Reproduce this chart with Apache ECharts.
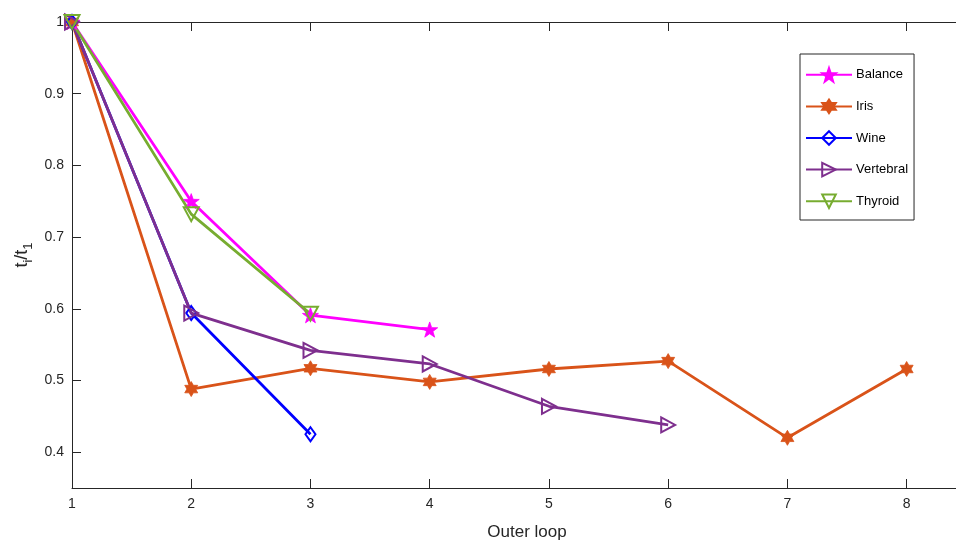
<!DOCTYPE html>
<html>
<head>
<meta charset="utf-8">
<script src="https://cdn.jsdelivr.net/npm/echarts@6/dist/echarts.min.js"></script>
<style>
  html, body { margin: 0; padding: 0; background: #fff; }
  #chart { width: 956px; height: 541px; }
</style>
</head>
<body>
<div id="chart"></div>
<script>
// Normalised run time t_i / t_1 per outer-loop iteration for each dataset
const outerLoop = [1, 2, 3, 4, 5, 6, 7, 8];
const balance   = [1.000, 0.750, 0.591, 0.571];
const iris      = [1.000, 0.488, 0.517, 0.498, 0.516, 0.527, 0.420, 0.516];
const wine      = [1.000, 0.594, 0.425];
const vertebral = [1.000, 0.594, 0.542, 0.523, 0.464, 0.438];
const thyroid   = [1.000, 0.732, 0.593];

const xTicks = [1, 2, 3, 4, 5, 6, 7, 8];
const yTicks = [0.4, 0.5, 0.6, 0.7, 0.8, 0.9, 1];

const AXIS = '#262626';
const FONT = '"Liberation Sans", Arial, Helvetica, sans-serif';

const STAR = 'path://M0,-10 L2.35,-3.24 L9.51,-3.09 L3.8,1.24 L5.88,8.09 L0,4 L-5.88,8.09 L-3.8,1.24 L-9.51,-3.09 L-2.35,-3.24 Z';
const HEXAGRAM = 'path://M0,-10 L2.89,-5 L8.66,-5 L5.77,0 L8.66,5 L2.89,5 L0,10 L-2.89,5 L-8.66,5 L-5.77,0 L-8.66,-5 L-2.89,-5 Z';
const DIAMOND = 'path://M0,-7 L5,0 L0,7 L-5,0 Z';
const TRI_RIGHT = 'path://M-6,-7 L7,0 L-6,7 Z';
const TRI_DOWN = 'path://M-7,-6 L7,-6 L0,7 Z';

function pairs(vals) {
  return vals.map((v, i) => [outerLoop[i], v]);
}

function makeSeries(name, vals, color, symbol, size, filled) {
  return {
    name: name,
    type: 'line',
    data: pairs(vals),
    symbol: symbol,
    symbolSize: size,
    symbolKeepAspect: true,
    showAllSymbol: true,
    lineStyle: { color: color, width: 2.8 },
    itemStyle: {
      color: filled ? color : 'rgba(255,255,255,0)',
      borderColor: color,
      borderWidth: filled ? 0.8 : 2
    },
    emphasis: { disabled: true },
    animation: false
  };
}

const chart = echarts.init(document.getElementById('chart'), null, { renderer: 'canvas' });

// x runs past the last labelled tick; the axes box is cut at the right edge
const X_MAX = 8.414;

chart.setOption({
  backgroundColor: '#fff',
  animation: false,
  grid: { left: 72, top: 22, right: 0, bottom: 53 },
  legend: {
    orient: 'vertical',
    left: 800,
    top: 54,
    padding: [13, 6, 11, 5],
    itemWidth: 46,
    itemHeight: 17,
    itemGap: 16,
    backgroundColor: '#fff',
    borderColor: AXIS,
    borderWidth: 1,
    borderRadius: 0,
    textStyle: { fontFamily: FONT, fontSize: 13, color: '#000', padding: [0, 0, 0, -1] },
    data: ['Balance', 'Iris', 'Wine', 'Vertebral', 'Thyroid']
  },
  xAxis: [
    {
      type: 'value',
      min: 1,
      max: X_MAX,
      position: 'bottom',
      axisLine: { show: true, lineStyle: { color: AXIS, width: 1 } },
      axisTick: { show: true, inside: true, length: 9, customValues: xTicks, lineStyle: { color: AXIS } },
      axisLabel: { customValues: xTicks, margin: 9, fontFamily: FONT, fontSize: 14, color: AXIS },
      splitLine: { show: false }
    },
    {
      type: 'value',
      min: 1,
      max: X_MAX,
      position: 'top',
      axisLine: { show: true, lineStyle: { color: AXIS, width: 1 } },
      axisTick: { show: true, inside: true, length: 9, customValues: xTicks, lineStyle: { color: AXIS } },
      axisLabel: { show: false },
      splitLine: { show: false }
    }
  ],
  yAxis: {
    type: 'value',
    min: 0.35,
    max: 1,
    axisLine: { show: true, lineStyle: { color: AXIS, width: 1 } },
    axisTick: { show: true, inside: true, length: 9, customValues: yTicks, lineStyle: { color: AXIS } },
    axisLabel: { customValues: yTicks, margin: 8, fontFamily: FONT, fontSize: 14, color: AXIS },
    splitLine: { show: false }
  },
  graphic: [
    {
      type: 'text',
      x: 527,
      y: 532,
      style: {
        text: 'Outer loop',
        font: '17px ' + FONT,
        fill: AXIS,
        textAlign: 'center',
        textVerticalAlign: 'middle'
      }
    },
    {
      type: 'text',
      x: 22,
      y: 255,
      rotation: Math.PI / 2,
      style: {
        text: '{n|t}{s|i}{n|/t}{s|1}',
        fill: AXIS,
        align: 'center',
        verticalAlign: 'middle',
        rich: {
          n: { fontFamily: FONT, fontSize: 18, fill: AXIS },
          s: { fontFamily: FONT, fontSize: 13, fill: AXIS, padding: [12, 0, 0, 0] }
        }
      }
    }
  ],
  series: [
    makeSeries('Balance', balance, '#FF00FF', STAR, 16, true),
    makeSeries('Iris', iris, '#D95319', HEXAGRAM, 15, true),
    makeSeries('Wine', wine, '#0000FF', DIAMOND, 14, false),
    makeSeries('Vertebral', vertebral, '#7E2F8E', TRI_RIGHT, 15, false),
    makeSeries('Thyroid', thyroid, '#77AC30', TRI_DOWN, 15, false)
  ]
});
</script>
</body>
</html>
